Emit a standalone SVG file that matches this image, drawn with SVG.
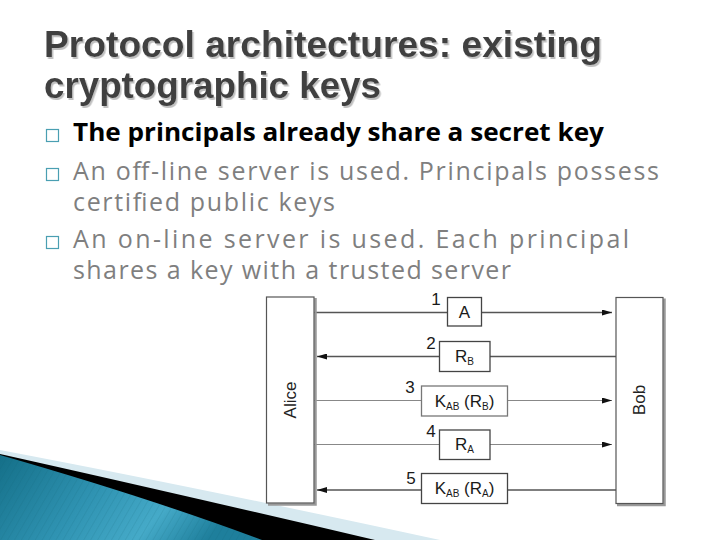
<svg xmlns="http://www.w3.org/2000/svg" width="720" height="540" viewBox="0 0 720 540">
  <defs>
    <style>
      .title { font-family: "Liberation Sans", Arial, sans-serif; font-weight: bold; font-size: 36px; fill: #404040; }
      .b1 { font-family: "Open Sans", "Liberation Sans", sans-serif; font-weight: bold; font-size: 25px; fill: #000; }
      .bt { font-family: "Open Sans", "Liberation Sans", sans-serif; font-size: 25px; fill: #7f7f7f; }
      .bullet { fill: none; stroke: #4a9fb2; stroke-width: 1.2; }
      .party { fill: #fff; stroke: #555; stroke-width: 1.2; }
      .pshadow { fill: none; stroke: #999; stroke-width: 2.5; }
      .plabel { font-family: "Liberation Sans", Arial, sans-serif; font-size: 17px; fill: #222; text-anchor: middle; }
      .msg { fill: #fff; stroke: #444; stroke-width: 1.3; }
      .msgl { fill: #fff; stroke: #777; stroke-width: 1.3; }
      .mlabel { font-family: "Liberation Sans", Arial, sans-serif; font-size: 17px; fill: #1a1a1a; text-anchor: middle; }
      .num { font-family: "Liberation Sans", Arial, sans-serif; font-size: 17px; fill: #1a1a1a; text-anchor: middle; }
      .sub { font-size: 10px; }
      .line-dark { stroke: #555; stroke-width: 1.5; fill: none; }
      .line-light { stroke: #888; stroke-width: 1.1; fill: none; }
    </style>
    <filter id="shadow" x="-5%" y="-20%" width="110%" height="150%">
      <feDropShadow dx="1.5" dy="2" stdDeviation="0.6" flood-color="#b0b0b0" flood-opacity="0.8"/>
    </filter>
    <marker id="arrow" viewBox="0 0 10 6" refX="10" refY="3" markerWidth="10" markerHeight="6" markerUnits="userSpaceOnUse" orient="auto">
      <path d="M0,0 L10,3 L0,6 Z" fill="#111"/>
    </marker>
    <linearGradient id="teal" x1="0" y1="0" x2="1" y2="0.3">
      <stop offset="0" stop-color="#146f88"/>
      <stop offset="0.45" stop-color="#2f93b2"/>
      <stop offset="0.75" stop-color="#45aac8"/>
      <stop offset="1" stop-color="#1e7f9c"/>
    </linearGradient>
    <pattern id="stripes" width="6" height="6" patternUnits="userSpaceOnUse" patternTransform="rotate(30)">
      <line x1="0" y1="0" x2="0" y2="6" stroke="#0b5a70" stroke-width="1" stroke-opacity="0.25"/>
    </pattern>
  </defs>

  <rect x="0" y="0" width="720" height="540" fill="#ffffff"/>

  <!-- decorative swoosh -->
  <g id="swoosh">
    <path d="M0,450 Q200,488 440,540 L0,540 Z" fill="#d7e9f0"/>
    <path d="M0,454 Q170,492 375,540 L0,540 Z" fill="#000"/>
    <path d="M0,455 Q150,498 262,540 L0,540 Z" fill="url(#teal)"/>
    <path d="M0,455 Q150,498 262,540 L0,540 Z" fill="url(#stripes)"/>
  </g>

  <!-- title -->
  <g id="title" filter="url(#shadow)">
    <text class="title" x="44" y="57" textLength="558" lengthAdjust="spacingAndGlyphs">Protocol architectures: existing</text>
    <text class="title" x="44" y="98" textLength="337" lengthAdjust="spacingAndGlyphs">cryptographic keys</text>
  </g>

  <!-- bullets -->
  <g id="bullets">
    <rect class="bullet" x="46.5" y="129.5" width="12" height="12"/>
    <text class="b1" x="73" y="141" textLength="531" lengthAdjust="spacingAndGlyphs">The principals already share a secret key</text>
    <rect class="bullet" x="46.5" y="168.5" width="12" height="12"/>
    <text class="bt" x="73" y="180" textLength="586" lengthAdjust="spacing">An off-line server is used. Principals possess</text>
    <text class="bt" x="73" y="211" textLength="262" lengthAdjust="spacing">certified public keys</text>
    <rect class="bullet" x="46.5" y="236.5" width="12" height="12"/>
    <text class="bt" x="73" y="248" textLength="556" lengthAdjust="spacing">An on-line server is used. Each principal</text>
    <text class="bt" x="73" y="279" textLength="438" lengthAdjust="spacing">shares a key with a trusted server</text>
  </g>

  <!-- connectors -->
  <g id="connectors">
    <line class="line-dark" x1="314" y1="312.5" x2="612" y2="312.5" marker-end="url(#arrow)"/>
    <line class="line-dark" x1="616" y1="356.5" x2="317" y2="356.5" marker-end="url(#arrow)"/>
    <line class="line-light" x1="314" y1="400.5" x2="612" y2="400.5" marker-end="url(#arrow)"/>
    <line class="line-light" x1="314" y1="444.5" x2="612" y2="444.5" marker-end="url(#arrow)"/>
    <line class="line-dark" x1="616" y1="490" x2="317" y2="490" marker-end="url(#arrow)"/>
  </g>

  <!-- parties -->
  <g id="alice">
    <path class="pshadow" d="M315.5,298 L315.5,504.5 L268,504.5"/>
    <rect class="party" x="266.5" y="297" width="47.5" height="206"/>
    <text class="plabel" transform="translate(296,400) rotate(-90)">Alice</text>
  </g>
  <g id="bob">
    <path class="pshadow" d="M664.5,298.5 L664.5,505 L617,505"/>
    <rect class="party" x="616" y="297.5" width="47" height="206"/>
    <text class="plabel" transform="translate(645,400) rotate(-90)">Bob</text>
  </g>

  <!-- messages -->
  <g id="msg1">
    <text class="num" x="436" y="305">1</text>
    <rect class="msg" x="447.5" y="297.5" width="34" height="28.5"/>
    <text class="mlabel" x="464.5" y="318">A</text>
  </g>
  <g id="msg2">
    <text class="num" x="431" y="349">2</text>
    <rect class="msg" x="439.5" y="341.5" width="50.5" height="30"/>
    <text class="mlabel" x="464.5" y="362">R<tspan class="sub" dy="3">B</tspan></text>
  </g>
  <g id="msg3">
    <text class="num" x="410" y="393">3</text>
    <rect class="msgl" x="421.5" y="386" width="86" height="30"/>
    <text class="mlabel" x="464.5" y="407">K<tspan class="sub" dy="3">AB</tspan><tspan dy="-3"> (R</tspan><tspan class="sub" dy="3">B</tspan><tspan dy="-3">)</tspan></text>
  </g>
  <g id="msg4">
    <text class="num" x="431" y="437">4</text>
    <rect class="msg" x="439.5" y="430" width="50.5" height="29.5"/>
    <text class="mlabel" x="464.5" y="450">R<tspan class="sub" dy="3">A</tspan></text>
  </g>
  <g id="msg5">
    <text class="num" x="411" y="484">5</text>
    <rect class="msg" x="421.5" y="473.5" width="86" height="30"/>
    <text class="mlabel" x="464.5" y="494">K<tspan class="sub" dy="3">AB</tspan><tspan dy="-3"> (R</tspan><tspan class="sub" dy="3">A</tspan><tspan dy="-3">)</tspan></text>
  </g>
</svg>
